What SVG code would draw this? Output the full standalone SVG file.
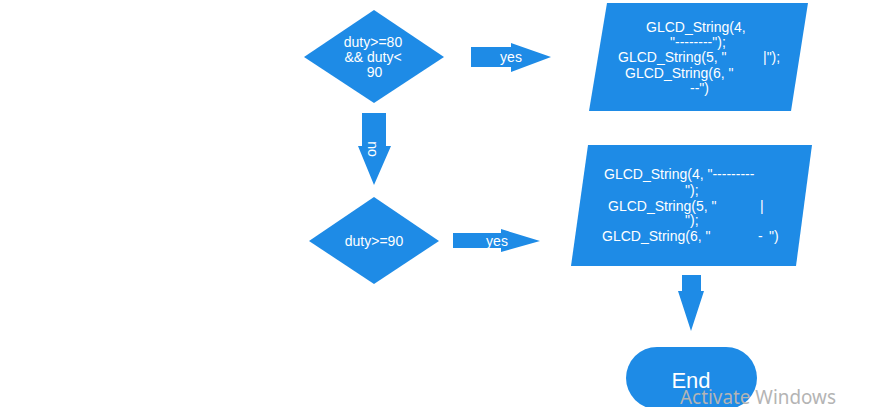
<svg xmlns="http://www.w3.org/2000/svg" width="869" height="407" viewBox="0 0 869 407">
<style>
.shape{fill:#1e8be6;stroke:none}
.t{font-family:"Liberation Sans",Arial,sans-serif;font-size:14px;fill:#ffffff}
.c{text-anchor:middle}
.end{font-family:"Liberation Sans",Arial,sans-serif;font-size:22px;fill:#ffffff;text-anchor:middle}
.wm{font-family:"Noto Sans","Open Sans",sans-serif;font-size:19px;fill:#b4b4b4}
</style>
<rect x="0" y="0" width="869" height="407" fill="#ffffff"/>
<g id="decision1">
<polygon class="shape" points="374,10 444,57 374,103 304,57"/>
<text class="t c" x="373" y="47">duty&gt;=80</text>
<text class="t c" x="373" y="62.3">&amp;&amp; duty&lt;</text>
<text class="t c" x="374.5" y="77.3">90</text>
</g>
<g id="output1">
<polygon class="shape" points="607,3 808,3 791,111 589,111"/>
<text class="t" xml:space="preserve" x="646" y="31.7">GLCD_String(4,</text>
<text class="t" xml:space="preserve" x="670" y="46.5">"--------");</text>
<text class="t" xml:space="preserve" x="618" y="62">GLCD_String(5, "<tspan x="763">|");</tspan></text>
<text class="t" xml:space="preserve" x="625" y="77.5">GLCD_String(6, "</text>
<text class="t" xml:space="preserve" x="690" y="93">--")</text>
</g>
<g id="decision2">
<polygon class="shape" points="374,197 439,241 374,284 309,241"/>
<text class="t c" x="374" y="245.7">duty&gt;=90</text>
</g>
<g id="output2">
<polygon class="shape" points="588,145 812,145 796,266 571,266"/>
<text class="t" xml:space="preserve" x="604" y="179">GLCD_String(4, "---------</text>
<text class="t" xml:space="preserve" x="685" y="194.5">");</text>
<text class="t" xml:space="preserve" x="608" y="210.5">GLCD_String(5, "<tspan x="760">|</tspan></text>
<text class="t" xml:space="preserve" x="685" y="225">");</text>
<text class="t" xml:space="preserve" x="602" y="240.5">GLCD_String(6, "<tspan x="758">-</tspan><tspan x="769">")</tspan></text>
</g>
<g id="end">
<rect class="shape" x="626" y="347" width="131" height="62" rx="31" ry="31"/>
<text class="end" x="691" y="388">End</text>
</g>
<g id="connectors">
<polygon class="shape" points="471,47 511,47 511,43 551,57 511,72 511,67 471,67"/>
<text class="t c" x="511" y="62.3">yes</text>
<polygon class="shape" points="362,113 386,113 386,146 391,146 374,185 358,146 362,146"/>
<text class="t c" transform="translate(367.5,149) rotate(90)">no</text>
<polygon class="shape" points="453,233 501,233 501,229 540,241 501,252 501,248 453,248"/>
<text class="t c" x="497" y="245.7">yes</text>
<polygon class="shape" points="682,275 701,275 701,291 704,291 691,331 678,291 682,291"/>
</g>
<text class="wm" x="680" y="404" textLength="156" lengthAdjust="spacingAndGlyphs">Activate Windows</text>
</svg>
